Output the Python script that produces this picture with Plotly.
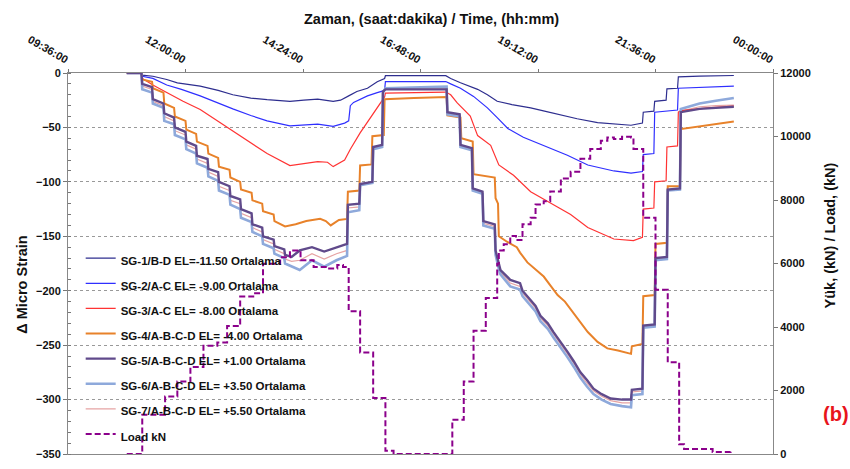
import plotly.graph_objects as go

DAY = "2020-01-01 "

# ---- strain gauge series (time of day, micro strain change) ----
sg1_t = ["10:48", "11:06", "11:07", "11:20", "11:37", "11:50", "12:18", "12:40", "12:58", "13:20",
         "13:40", "14:08", "14:25", "14:42", "15:01", "15:10", "15:20", "15:30", "15:43", "15:55",
         "16:04", "16:05", "17:19", "17:25", "17:37", "17:48", "17:58", "18:10", "18:22", "18:40",
         "19:03", "19:20", "19:36", "20:00", "20:25", "20:45", "21:06", "21:20", "21:21", "21:34",
         "21:35", "21:49", "21:50", "22:03", "22:04", "22:30", "23:12"]
sg1_v = [0, 0, -2, -3, -6, -9, -12, -16, -20, -23,
         -24.5, -26, -25, -24, -26, -25, -21, -17, -14, -8,
         -5, -2.5, -2.5, -5, -9, -12, -15, -20, -26, -29,
         -32, -35, -38, -42, -45.5, -47, -48, -46, -36, -35,
         -26, -25, -14.5, -14, -3.5, -2.8, -2.3]

sg2_t = ["10:48", "11:06", "11:07", "11:20", "11:37", "11:55", "12:18", "12:40", "12:58", "13:20",
         "13:40", "14:08", "14:25", "14:42", "15:01", "15:15", "15:20", "15:22", "15:26", "15:43",
         "15:55", "16:04", "16:05", "17:19", "17:25", "17:37", "17:53", "18:10", "18:22", "18:35",
         "18:54", "19:19", "19:48", "20:13", "20:45", "21:06", "21:20", "21:21", "21:34", "21:35",
         "22:03", "22:04", "22:30", "23:12"]
sg2_v = [0, 0, -3, -5, -11, -15, -21, -28, -33, -39,
         -44, -48.5, -47.5, -47, -49, -46, -44, -30, -27, -21,
         -18, -16, -8, -7.8, -10, -14, -21.5, -32, -41, -51,
         -59, -66.5, -75.5, -84.5, -90, -92, -90.5, -75, -74, -36,
         -34, -14, -13, -12]

sg3_t = ["10:48", "11:06", "11:07", "11:20", "11:37", "11:57", "12:18", "12:39", "12:58", "13:19",
         "13:40", "14:08", "14:25", "14:42", "14:54", "15:01", "15:15", "15:20", "15:22", "15:34",
         "15:50", "16:04", "16:05", "17:19", "17:25", "17:33", "17:49", "17:58", "18:14", "18:24",
         "18:42", "19:03", "19:24", "19:52", "20:13", "20:45", "21:09", "21:20", "21:21", "21:34",
         "21:35", "21:49", "21:50", "22:03", "22:04", "22:07", "22:40", "23:12"]
sg3_v = [0, 0, -5, -11, -18, -26, -33.5, -44, -53, -63.5,
         -74, -85, -83, -81.5, -82, -86, -80, -72, -70, -55,
         -38, -22, -18.5, -17.5, -20, -27.5, -39.5, -57.5, -66.5, -84.5,
         -94, -109, -118, -130, -142, -152.5, -154, -151, -125, -124,
         -100, -99, -68, -67, -36, -34.5, -32, -30.5]

sg4_t = ["10:48", "11:06", "11:07", "11:19", "11:20", "11:33", "11:34", "11:46", "11:47", "12:00",
         "12:01", "12:13", "12:14", "12:27", "12:28", "12:40", "12:41", "12:54", "12:55", "13:07",
         "13:08", "13:21", "13:22", "13:34", "13:35", "13:48", "13:49", "14:02", "14:15", "14:28",
         "14:45", "14:52", "14:58", "15:08", "15:18", "15:19", "15:33", "15:34", "15:48", "15:49",
         "16:03", "16:04", "16:40", "17:20", "17:21", "17:37", "17:38", "17:52", "17:53", "18:19",
         "18:20", "18:23", "18:24", "18:34", "18:46", "18:50", "18:59", "19:08", "19:19", "19:28",
         "19:36", "19:45", "19:52", "20:04", "20:13", "20:25", "20:37", "20:50", "21:06", "21:07",
         "21:20", "21:21", "21:35", "21:36", "21:50", "21:51", "22:06", "22:07", "22:30", "22:50",
         "23:12"]
sg4_v = [0, 0, -6, -8, -14, -18, -28, -32, -40, -44,
         -52, -56, -63, -67, -74, -78, -86, -89, -96, -100,
         -107, -110, -117, -120, -127, -130, -136, -141, -139, -136,
         -134, -136, -140, -135, -134, -109, -108, -85, -84, -58,
         -57, -24, -23, -22, -39, -41, -60, -63, -93, -96,
         -115, -120, -150, -155, -160, -165, -174, -180, -187, -196,
         -204, -210, -217, -228, -238, -247, -253, -255, -258, -251,
         -249, -205, -204, -157, -156, -104, -104, -51.5, -49, -47,
         -44.5]

# SG-5, SG-6 and SG-7 were logged on the same clock
sg5_t = ["10:48", "11:06", "11:07", "11:19", "11:20", "11:33", "11:34", "11:46", "11:47", "12:00",
         "12:01", "12:13", "12:14", "12:27", "12:28", "12:40", "12:41", "12:54", "12:55", "13:07",
         "13:08", "13:21", "13:22", "13:34", "13:35", "13:48", "13:49", "14:01", "14:02", "14:10",
         "14:20", "14:35", "14:50", "15:05", "15:18", "15:19", "15:33", "15:34", "15:49", "15:50",
         "16:01", "16:02", "16:05", "17:20", "17:21", "17:36", "17:37", "17:51", "17:52", "18:04",
         "18:05", "18:19", "18:20", "18:24", "18:26", "18:38", "18:50", "18:53", "18:59", "19:09",
         "19:15", "19:24", "19:31", "19:40", "19:48", "19:56", "20:04", "20:12", "20:20", "20:30",
         "20:41", "20:55", "21:06", "21:07", "21:20", "21:21", "21:35", "21:36", "21:50", "21:51",
         "22:06", "22:07", "22:30", "22:50", "23:12"]
sg5_v = [0, 0, -10, -13, -24, -28, -37, -41, -50, -54,
         -63, -67, -76, -79, -88, -91, -100, -104, -113, -116,
         -125, -129, -139, -142, -150, -153, -159, -162, -167, -169,
         -163, -160, -164, -160, -157, -121, -120, -102, -100, -68,
         -66, -17, -15, -15, -36, -38, -66, -69, -106, -109,
         -136, -139, -163, -175, -181, -190, -193, -200, -205, -214,
         -223, -230, -238, -247, -256, -265, -275, -282, -290, -295,
         -299, -300, -300, -291, -290, -232, -231, -170, -169, -107,
         -106, -36, -33, -32, -31]
sg6_v = [0, 0, -15, -18, -28, -32, -44, -47, -57, -61,
         -70, -74, -83, -87, -95, -99, -108, -112, -121, -125,
         -133, -137, -146, -150, -157, -161, -166, -170, -175, -178,
         -181, -172, -178, -172, -168, -128, -126, -103, -101, -70,
         -68, -18, -14, -12.5, -38, -40, -68, -71, -108, -111,
         -140, -143, -167, -180, -185, -196, -199, -205, -210, -219,
         -228, -235, -243, -252, -261, -270, -280, -288, -295, -300,
         -304, -306, -307, -296, -295, -234, -233, -172, -171, -108,
         -107, -33, -28, -25.5, -23]
sg7_v = [0, 0, -12, -15, -26, -30, -40, -44, -53, -57,
         -66, -70, -79, -83, -91, -95, -104, -108, -117, -120,
         -129, -133, -142, -146, -153, -157, -162, -166, -171, -173,
         -172, -166, -171, -166, -163, -124, -123, -102, -100, -69,
         -67, -17, -14, -14, -37, -39, -67, -70, -107, -110,
         -138, -141, -165, -177, -183, -193, -196, -202, -207, -216,
         -225, -232, -240, -249, -258, -267, -277, -285, -292, -297,
         -301, -303, -303, -293, -292, -233, -232, -171, -170, -107,
         -106, -35, -31, -30, -29.5]

# ---- applied load (kN) ----
load_t = ["10:48", "11:07", "11:35", "11:50", "12:06", "12:22", "12:39", "12:51", "13:07", "13:23",
          "13:35", "13:56", "14:08", "14:21", "14:37", "14:54", "15:06", "15:13", "15:20", "15:34",
          "15:50", "16:05", "16:15", "17:21", "17:27", "17:41", "17:53", "18:08", "18:22", "18:24",
          "18:30", "18:38", "18:45", "18:53", "19:03", "19:09", "19:19", "19:27", "19:40", "19:52",
          "20:04", "20:16", "20:29", "20:37", "20:45", "20:55", "21:06", "21:09", "21:21", "21:36",
          "21:51", "22:05", "22:11", "22:46", "23:08"]
load_v = [0, 1240, 1810, 2280, 2740, 3410, 3510, 4030, 4960, 5060,
          5990, 6200, 6410, 6100, 5890, 5840, 5950, 5890, 4500, 3200,
          1760, 100, 0, 0, 1080, 2280, 3880, 4910, 5990, 6410,
          6610, 6870, 6740, 7240, 7440, 7860, 7960, 8270, 8680, 8890,
          9300, 9610, 9870, 9970, 9920, 9990, 9970, 9610, 7440, 5170,
          2890, 310, 160, 60, 100]

names = ["SG-1/B-D EL=-11.50 Ortalama", "SG-2/A-C EL= -9.00 Ortalama",
         "SG-3/A-C EL= -8.00 Ortalama", "SG-4/A-B-C-D EL= -4.00 Ortalama",
         "SG-5/A-B-C-D EL= +1.00 Ortalama", "SG-6/A-B-C-D EL= +3.50 Ortalama",
         "SG-7/A-B-C-D EL= +5.50 Ortalama", "Load kN"]
colors = ["#2E2E8F", "#2F2FFF", "#FF3333", "#E8822A", "#604A8B", "#8EA9DB", "#E6A3A3", "#8B008B"]

FONT = "Liberation Sans, Arial, sans-serif"


def ts(times):
    return [DAY + t for t in times]


def label(s):
    return '<span style="font-size:11.5px">' + s + "</span>"


fig = go.Figure()

# SG-7 lies beneath the thick SG-5/SG-6 lines, so it is drawn first
series = [
    (6, sg5_t, sg7_v, 1.2),
    (0, sg1_t, sg1_v, 1.2),
    (1, sg2_t, sg2_v, 1.2),
    (2, sg3_t, sg3_v, 1.2),
    (3, sg4_t, sg4_v, 2.0),
    (5, sg5_t, sg6_v, 2.6),
    (4, sg5_t, sg5_v, 2.4),
]
for idx, t, v, w in series:
    fig.add_trace(go.Scatter(
        x=ts(t), y=v, mode="lines", name=label(names[idx]), legendrank=idx + 1,
        line=dict(color=colors[idx], width=w),
    ))

fig.add_trace(go.Scatter(
    x=ts(load_t), y=load_v, mode="lines", name=label(names[7]), legendrank=8, yaxis="y2",
    line=dict(color=colors[7], width=2, dash="6px,3px", shape="hv"),
))

tickfont = dict(family=FONT, size=11, color="#111", weight="bold")
titlefont = dict(family=FONT, size=14.5, color="#111", weight="bold")

fig.update_layout(
    width=850, height=469,
    margin=dict(l=68, r=77, t=73, b=9),
    paper_bgcolor="white", plot_bgcolor="white",
    font=dict(family=FONT, color="#111"),
    showlegend=True,
    legend=dict(
        x=0.018, y=0.56, xanchor="left", yanchor="top",
        bgcolor="rgba(0,0,0,0)", font=dict(family=FONT, size=17, color="#111", weight="bold"),
        itemwidth=30, traceorder="normal",
    ),
    xaxis=dict(
        type="date", side="top",
        range=[DAY + "09:36", "2020-01-02 00:00"],
        tick0=DAY + "09:36", dtick=8640000, tickformat="%H:%M:%S",
        tickangle=30, tickfont=tickfont,
        ticks="outside", ticklen=3, tickcolor="#777",
        showline=True, linecolor="#888", linewidth=1, mirror=True,
        showgrid=False, zeroline=False,
    ),
    yaxis=dict(
        range=[-350, 0], dtick=50, tickfont=tickfont,
        ticks="outside", ticklen=4, tickcolor="#777",
        minor=dict(dtick=10, ticks="inside", ticklen=3, tickcolor="#777", showgrid=False),
        showline=True, linecolor="#888", linewidth=1,
        showgrid=True, gridcolor="#999", griddash="dot", gridwidth=1,
        zeroline=False,
    ),
    yaxis2=dict(
        range=[0, 12000], dtick=2000, overlaying="y", side="right", tickformat="d",
        tickfont=tickfont, ticks="outside", ticklen=4, tickcolor="#777",
        showline=True, linecolor="#888", linewidth=1,
        showgrid=False, zeroline=False,
    ),
    annotations=[
        dict(text="Zaman, (saat:dakika) / Time, (hh:mm)", x=431, y=18,
             showarrow=False, font=titlefont),
        dict(text="Δ Micro Strain", textangle=-90, x=22, y=288, showarrow=False,
             font=titlefont),
        dict(text="Yük, (kN) / Load, (kN)", textangle=-90, x=830, y=238, showarrow=False,
             font=titlefont),
        dict(text="(b)", x=836, y=419, showarrow=False,
             font=dict(family=FONT, size=20, color="#E8141B", weight="bold")),
    ],
)

# annotation positions above are given in pixels; convert to paper fractions
pw, ph = 850 - 68 - 77, 469 - 73 - 9
for a in fig.layout.annotations:
    a.xref, a.yref = "paper", "paper"
    a.x = (a.x - 68) / pw
    a.y = (469 - 9 - a.y) / ph
    a.xanchor, a.yanchor = "center", "middle"

fig.write_html("out.html")
